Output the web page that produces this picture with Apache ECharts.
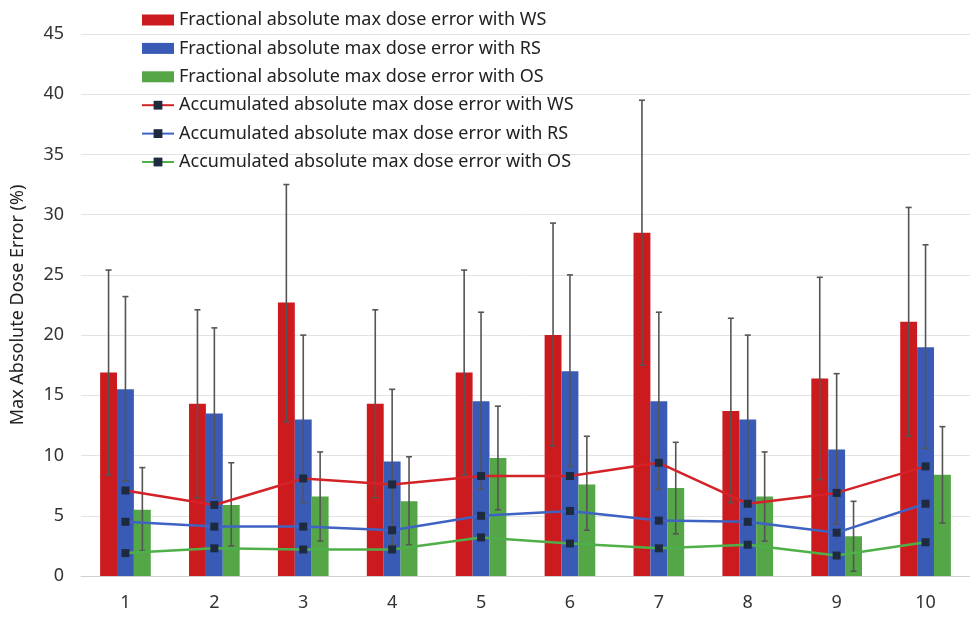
<!DOCTYPE html>
<html><head><meta charset="utf-8">
<script src="https://cdn.jsdelivr.net/npm/echarts@6/dist/echarts.min.js"></script>
<style>html,body{margin:0;padding:0;background:#fff}#c{width:970px;height:617px}</style>
</head><body><div id="c"></div>
<script>
var categories = ['1','2','3','4','5','6','7','8','9','10'];
var wsFrac = [16.9, 14.3, 22.7, 14.3, 16.9, 20.0, 28.5, 13.7, 16.4, 21.1];
var rsFrac = [15.5, 13.5, 13.0, 9.5, 14.5, 17.0, 14.5, 13.0, 10.5, 19.0];
var osFrac = [5.5, 5.9, 6.6, 6.2, 9.8, 7.6, 7.3, 6.6, 3.3, 8.4];
var wsHigh = [25.4, 22.1, 32.5, 22.1, 25.4, 29.3, 39.5, 21.4, 24.8, 30.6];
var wsLow  = [8.4, 6.5, 12.8, 6.5, 8.4, 10.8, 17.5, 6.1, 8.0, 11.6];
var rsHigh = [23.2, 20.6, 20.0, 15.5, 21.9, 25.0, 21.9, 20.0, 16.8, 27.5];
var rsLow  = [7.9, 6.5, 6.1, 2.6, 7.2, 9.1, 7.2, 6.1, 4.3, 10.6];
var osHigh = [9.0, 9.4, 10.3, 9.9, 14.1, 11.6, 11.1, 10.3, 6.2, 12.4];
var osLow  = [2.1, 2.5, 2.9, 2.6, 5.5, 3.8, 3.5, 2.9, 0.4, 4.4];
var wsAcc = [7.1, 5.9, 8.1, 7.6, 8.3, 8.3, 9.4, 6.0, 6.9, 9.1];
var rsAcc = [4.5, 4.1, 4.1, 3.8, 5.0, 5.4, 4.6, 4.5, 3.6, 6.0];
var osAcc = [1.9, 2.3, 2.2, 2.2, 3.2, 2.7, 2.3, 2.6, 1.7, 2.8];
var yTicks = [0, 5, 10, 15, 20, 25, 30, 35, 40, 45];
var names = [
  'Fractional absolute max dose error with WS',
  'Fractional absolute max dose error with RS',
  'Fractional absolute max dose error with OS',
  'Accumulated absolute max dose error with WS',
  'Accumulated absolute max dose error with RS',
  'Accumulated absolute max dose error with OS'
];

var RED = '#cc1b1f', BLUE = '#3a5bb5', GREEN = '#54a647';
var LRED = '#d42229', LBLUE = '#3f63c2', LGREEN = '#4fb04a';
var MARK = '#1e2a3e';
var BARW = 0.19;
var FONT = 'Noto Sans';

function errSeries(high, low, idx) {
  var data = categories.map(function (c, i) { return [i, low[i], high[i]]; });
  return {
    type: 'custom',
    z: 3,
    silent: true,
    data: data,
    encode: { x: 0, y: [1, 2] },
    renderItem: function (params, api) {
      var band = api.size([1, 0])[0];
      var bw = band * BARW;
      var off = (idx - 1) * bw;
      var lo = api.coord([api.value(0), api.value(1)]);
      var hi = api.coord([api.value(0), api.value(2)]);
      var x = lo[0] + off;
      var cap = 3;
      var st = { stroke: '#555', lineWidth: 1.6 };
      return {
        type: 'group',
        children: [
          { type: 'line', shape: { x1: x, y1: lo[1], x2: x, y2: hi[1] }, style: st },
          { type: 'line', shape: { x1: x - cap, y1: lo[1], x2: x + cap, y2: lo[1] }, style: st },
          { type: 'line', shape: { x1: x - cap, y1: hi[1], x2: x + cap, y2: hi[1] }, style: st }
        ]
      };
    }
  };
}

function barSeries(name, data, color) {
  return { name: name, type: 'bar', data: data, barWidth: (BARW * 100) + '%', barGap: '0%',
    itemStyle: { color: color }, z: 2 };
}
function lineSeries(name, data, color) {
  return { name: name, type: 'line', data: data, symbol: 'rect', symbolSize: 8,
    lineStyle: { color: color, width: 2.5 }, itemStyle: { color: MARK },
    z: 4 };
}

var legendData = names.map(function (n, i) {
  return i < 3 ? { name: n, icon: 'rect' } : { name: n };
});

var chart = echarts.init(document.getElementById('c'), null, { renderer: 'canvas' });
chart.setOption({
  backgroundColor: '#fff',
  animation: false,
  grid: { left: 81, right: -7, top: 34, bottom: 41 },
  legend: {
    orient: 'vertical', left: 141, top: 10, padding: 0, itemGap: 8.4,
    itemWidth: 32, itemHeight: 11,
    textStyle: { fontFamily: FONT, fontSize: 18, color: '#222', lineHeight: 20 },
    data: legendData
  },
  xAxis: {
    type: 'category', data: categories,
    axisLine: { lineStyle: { color: '#d0d0d0' } },
    axisTick: { show: false },
    axisLabel: { fontFamily: FONT, fontSize: 18, color: '#333', margin: 18 }
  },
  yAxis: {
    type: 'value', min: yTicks[0], max: yTicks[yTicks.length - 1], interval: 5,
    name: 'Max Absolute Dose Error (%)', nameLocation: 'middle', nameGap: 54,
    nameTextStyle: { fontFamily: FONT, fontSize: 18, color: '#222' },
    axisLine: { show: false }, axisTick: { show: false },
    splitLine: { lineStyle: { color: '#e3e3e3', width: 1 } },
    axisLabel: { fontFamily: FONT, fontSize: 18, color: '#333', margin: 17 }
  },
  series: [
    barSeries(names[0], wsFrac, RED),
    barSeries(names[1], rsFrac, BLUE),
    barSeries(names[2], osFrac, GREEN),
    lineSeries(names[3], wsAcc, LRED),
    lineSeries(names[4], rsAcc, LBLUE),
    lineSeries(names[5], osAcc, LGREEN),
    errSeries(wsHigh, wsLow, 0),
    errSeries(rsHigh, rsLow, 1),
    errSeries(osHigh, osLow, 2)
  ]
});
</script></body></html>
